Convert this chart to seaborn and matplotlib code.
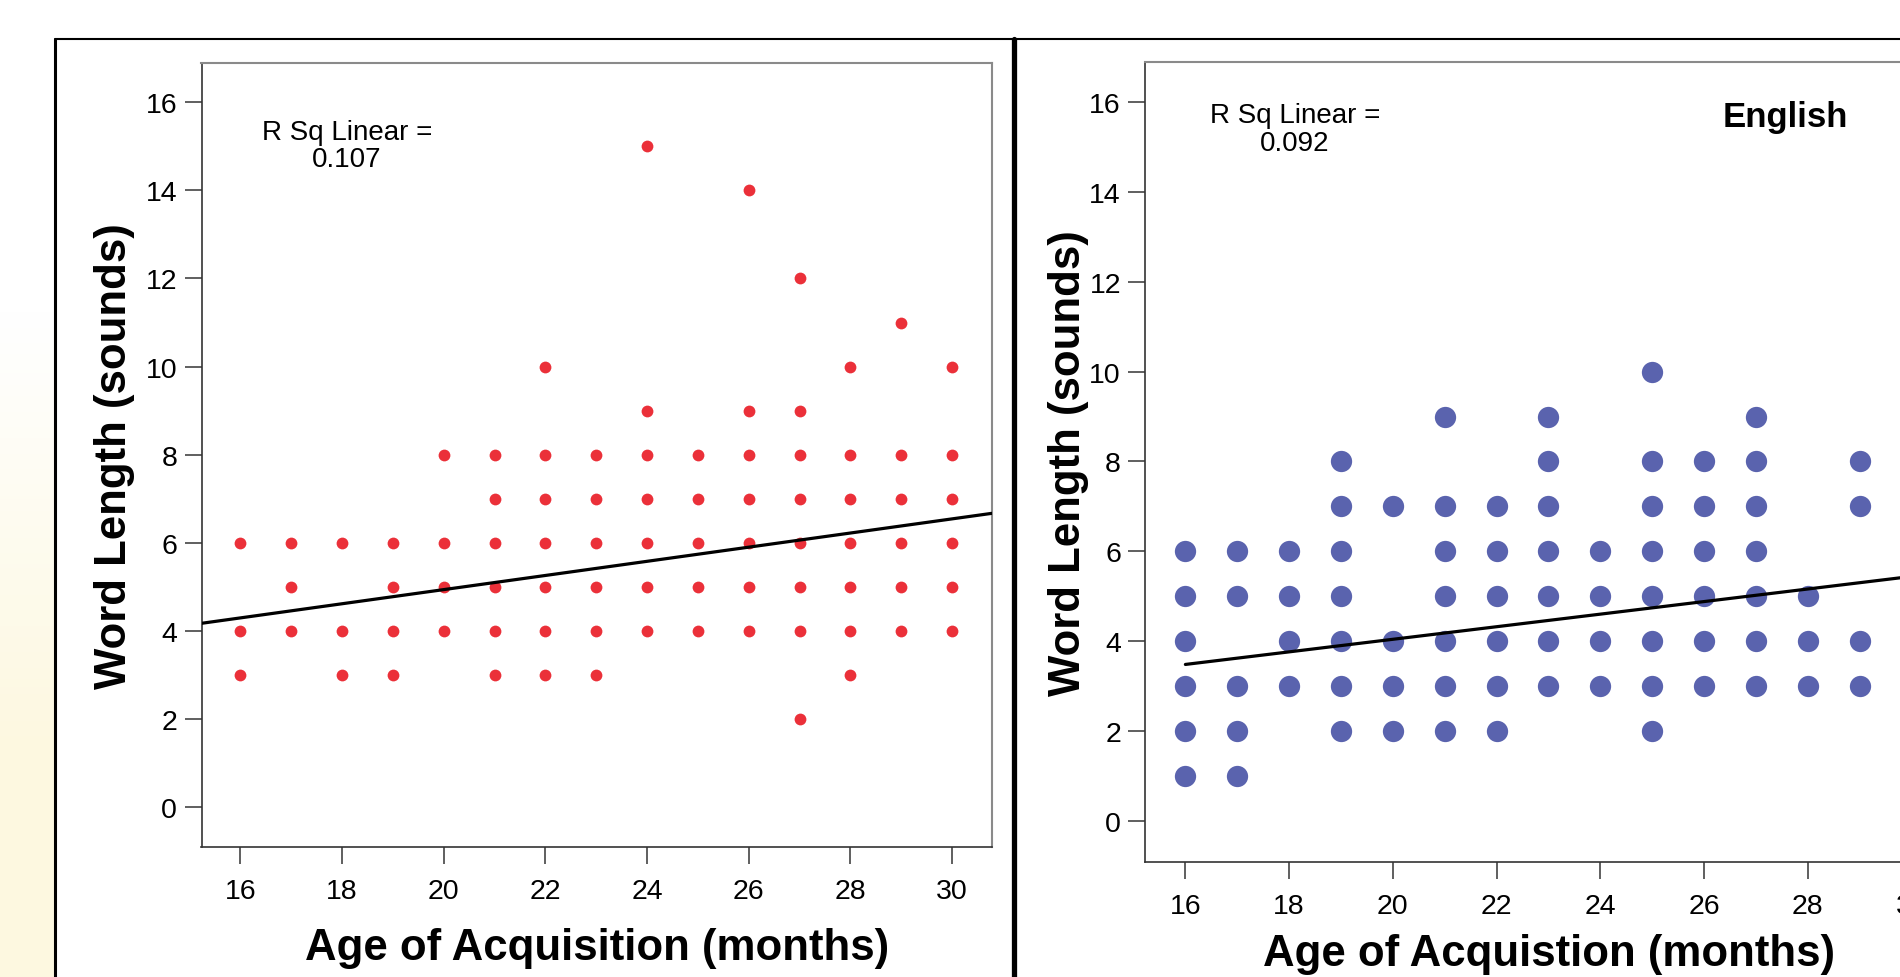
import numpy as np
import pandas as pd
import matplotlib
matplotlib.use("Agg")
import matplotlib.pyplot as plt
import seaborn as sns
from matplotlib.lines import Line2D

# ---------------- data ----------------
ages = list(range(16, 31))

# word lengths (sounds) observed at each age (left panel, red)
red_lengths = [
    [3, 4, 6],                 # 16
    [4, 5, 6],                 # 17
    [3, 4, 6],                 # 18
    [3, 4, 5, 6],              # 19
    [4, 5, 6, 8],              # 20
    [3, 4, 5, 6, 7, 8],        # 21
    [3, 4, 5, 6, 7, 8, 10],    # 22
    [3, 4, 5, 6, 7, 8],        # 23
    [4, 5, 6, 7, 8, 9, 15],    # 24
    [4, 5, 6, 7, 8],           # 25
    [4, 5, 6, 7, 8, 9, 14],    # 26
    [2, 4, 5, 6, 7, 8, 9, 12], # 27
    [3, 4, 5, 6, 7, 8, 10],    # 28
    [4, 5, 6, 7, 8, 11],       # 29
    [4, 5, 6, 7, 8, 10],       # 30
]

# right panel (English, blue)
blue_lengths = [
    [1, 2, 3, 4, 5, 6],        # 16
    [1, 2, 3, 5, 6],           # 17
    [3, 4, 5, 6],              # 18
    [2, 3, 4, 5, 6, 7, 8],     # 19
    [2, 3, 4, 7],              # 20
    [2, 3, 4, 5, 6, 7, 9],     # 21
    [2, 3, 4, 5, 6, 7],        # 22
    [3, 4, 5, 6, 7, 8, 9],     # 23
    [3, 4, 5, 6],              # 24
    [2, 3, 4, 5, 6, 7, 8, 10], # 25
    [3, 4, 5, 6, 7, 8],        # 26
    [3, 4, 5, 6, 7, 8, 9],     # 27
    [3, 4, 5],                 # 28
    [3, 4, 7, 8],              # 29
    [],                        # 30 (outside the visible area)
]

# linear fits (intercept, slope) and R squared as shown
fit_red = (1.730, 0.1605)
fit_blue = (1.240, 0.1400)
r2_red = "0.107"
r2_blue = "0.092"

panel_label = "English"
ylabel = "Word Length (sounds)"
xlabel_left = "Age of Acquisition (months)"
xlabel_right = "Age of Acquistion (months)"

x_ticks = list(range(16, 31, 2))
y_ticks = list(range(0, 17, 2))


def to_frame(lengths):
    rows = [(a, v) for a, vals in zip(ages, lengths) for v in vals]
    return pd.DataFrame(rows, columns=["aoa", "length"])


df_red = to_frame(red_lengths)
df_blue = to_frame(blue_lengths)

# ---------------- style ----------------
sns.set_style("white")
plt.rcParams["font.family"] = ["Liberation Sans", "DejaVu Sans"]
plt.rcParams["text.color"] = "black"
plt.rcParams["axes.labelcolor"] = "black"
plt.rcParams["xtick.color"] = "black"
plt.rcParams["ytick.color"] = "black"

RED = "#EB3039"
BLUE = "#5A63AE"

W, H = 1900, 978
fig = plt.figure(figsize=(W / 100, H / 100), dpi=100)
fig.patch.set_facecolor("white")

# pale yellow gradient strip on the far left
bg = fig.add_axes([0, 0, 55 / W, 1])
bg.set_axis_off()
img = np.ones((256, 1, 3))
yellow = np.array([253, 248, 224]) / 255.0
t = np.clip((np.linspace(0, 1, 256) - 0.32) / 0.45, 0, 1)[:, None]  # 0 at top
img[:, 0, :] = (1 - t) * np.array([1, 1, 1]) + t * yellow
bg.imshow(img, aspect="auto", extent=[0, 1, 0, 1], origin="upper")
bg.set_zorder(-5)

# outer frame lines of the slide
fig.add_artist(Line2D([55.3 / W, 1], [1 - 39.7 / H] * 2, transform=fig.transFigure,
                      color="black", lw=1.5))
fig.add_artist(Line2D([55.3 / W] * 2, [0, 1 - 39.7 / H], transform=fig.transFigure,
                      color="black", lw=2.2))
fig.add_artist(Line2D([1014 / W] * 2, [0, 1 - 39.7 / H], transform=fig.transFigure,
                      color="black", lw=3.8))

ax1 = fig.add_axes([201.5 / W, 1 - 847.7 / H, 790.2 / W, 783.7 / H])
ax2 = fig.add_axes([1145.2 / W, 1 - 862.7 / H, 806.7 / W, 799.4 / H])


def style_axes(ax, xlim, ylim):
    ax.set_xlim(*xlim)
    ax.set_ylim(*ylim)
    ax.set_xticks(x_ticks)
    ax.set_yticks(y_ticks)
    ax.tick_params(axis="both", which="major", direction="out", length=12.5,
                   width=1.2, color="#444444", labelsize=20.5, labelcolor="black")
    ax.tick_params(axis="y", pad=5, left=True)
    ax.tick_params(axis="x", pad=10, bottom=True)
    for side in ["left", "bottom"]:
        ax.spines[side].set_color("#333333")
        ax.spines[side].set_linewidth(1.2)
    for side in ["top", "right"]:
        ax.spines[side].set_color("#8a8a8a")
        ax.spines[side].set_linewidth(1.5)
    ax.grid(False)
    ax.set_facecolor("white")


# ---------- left panel ----------
style_axes(ax1, (15.235, 30.78), (-0.894, 16.89))
sns.scatterplot(data=df_red, x="aoa", y="length", ax=ax1, color=RED, s=72,
                linewidth=0, legend=False, zorder=2)
xs = np.array(ax1.get_xlim())
sns.lineplot(x=xs, y=fit_red[0] + fit_red[1] * xs, ax=ax1, color="black",
             lw=2.3, zorder=3)
ax1.set_xlim(15.235, 30.78)
ax1.set_xlabel(xlabel_left, fontsize=31.5, fontweight="bold")
ax1.set_ylabel(ylabel, fontsize=31.5, fontweight="bold")
ax1.xaxis.set_label_coords(0.5, -0.1025)
ax1.yaxis.set_label_coords(-0.0842, 0.5)
ax1.text(0.184, 0.903, "R Sq Linear =", transform=ax1.transAxes, ha="center",
         va="baseline", fontsize=20)
ax1.text(0.184, 0.868, r2_red, transform=ax1.transAxes, ha="center",
         va="baseline", fontsize=20)

# ---------- right panel ----------
style_axes(ax2, (15.225, 30.78), (-0.913, 16.89))
sns.scatterplot(data=df_blue, x="aoa", y="length", ax=ax2, color=BLUE, s=235,
                linewidth=0, legend=False, zorder=2)
xs2 = np.array([df_blue["aoa"].min(), ax2.get_xlim()[1]])
sns.lineplot(x=xs2, y=fit_blue[0] + fit_blue[1] * xs2, ax=ax2, color="black",
             lw=2.3, zorder=3)
ax2.set_xlim(15.225, 30.78)
ax2.set_xlabel(xlabel_right, fontsize=31.5, fontweight="bold")
ax2.set_ylabel(ylabel, fontsize=31.5, fontweight="bold")
ax2.xaxis.set_label_coords(0.5, -0.089)
ax2.yaxis.set_label_coords(-0.0697, 0.5)
ax2.text(0.1857, 0.925, "R Sq Linear =", transform=ax2.transAxes, ha="center",
         va="baseline", fontsize=20)
ax2.text(0.1857, 0.8907, r2_blue, transform=ax2.transAxes, ha="center",
         va="baseline", fontsize=20)
ax2.text(0.794, 0.9207, panel_label, transform=ax2.transAxes, ha="center",
         va="baseline", fontsize=25, fontweight="bold")

fig.savefig("out.png", dpi=100)
